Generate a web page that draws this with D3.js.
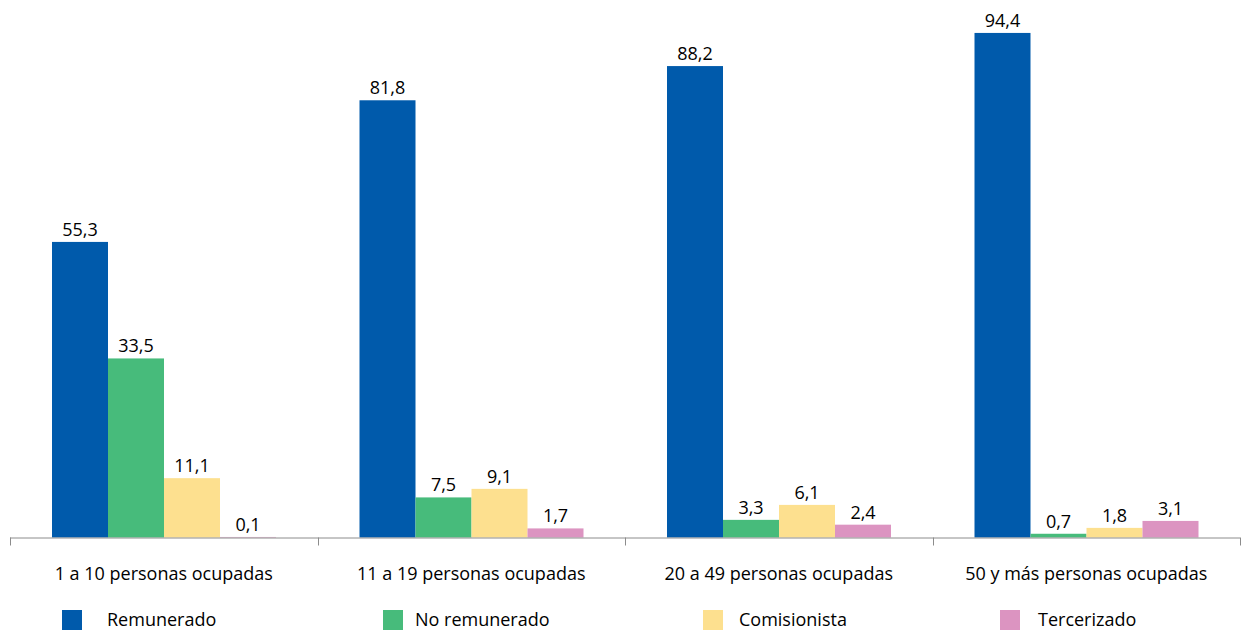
<!DOCTYPE html>
<html><head><meta charset="utf-8">
<script src="https://cdn.jsdelivr.net/npm/d3@7"></script>
<style>body{margin:0;background:#fff}svg{display:block}text{font-family:"Open Sans",sans-serif;fill:#000}</style>
</head><body>
<svg id="c" width="1244" height="630"></svg>
<script>
const categories = ["1 a 10 personas ocupadas","11 a 19 personas ocupadas","20 a 49 personas ocupadas","50 y más personas ocupadas"];
const seriesNames = ["Remunerado","No remunerado","Comisionista","Tercerizado"];
const remunerado = [55.3, 81.8, 88.2, 94.4];
const noRemunerado = [33.5, 7.5, 3.3, 0.7];
const comisionista = [11.1, 9.1, 6.1, 1.8];
const tercerizado = [0.1, 1.7, 2.4, 3.1];
const colors = ["#005aab","#47bb7b","#fde08f","#dc94c1"];
const seriesValues = [remunerado, noRemunerado, comisionista, tercerizado];
const fmt = v => v.toFixed(1).replace(".", ",");

const svg = d3.select("#c");
const x0 = d3.scaleBand().domain(categories).range([10, 1240]).padding(0);
const x1 = d3.scaleBand().domain(seriesNames).range([42, x0.bandwidth() - 41.5]).padding(0);
const y = d3.scaleLinear().domain([0, 100]).range([537.5, 3]);

const data = [];
categories.forEach((c, i) => seriesNames.forEach((s, j) => data.push({c, s, v: seriesValues[j][i], color: colors[j]})));

svg.selectAll("rect.bar").data(data).join("rect").attr("class","bar")
  .attr("x", d => x0(d.c) + x1(d.s)).attr("width", x1.bandwidth())
  .attr("y", d => y(d.v)).attr("height", d => y(0) - y(d.v)).attr("fill", d => d.color);

svg.selectAll("text.val").data(data).join("text").attr("class","val")
  .attr("x", d => x0(d.c) + x1(d.s) + x1.bandwidth()/2).attr("y", d => y(d.v) - 6)
  .attr("text-anchor","middle").attr("font-size", 18).text(d => fmt(d.v));

// axis
const ax = svg.append("g").attr("transform", `translate(0,${y(0)})`)
  .call(d3.axisBottom(x0).tickSize(0).tickFormat(""));
ax.select(".domain").attr("stroke", "#8c8c8c").attr("d", "M10,0.5H1240");
const edges = categories.map(c => x0(c)).concat([x0.range()[1]]);
svg.selectAll("line.tk").data(edges).join("line").attr("class","tk")
  .attr("x1", d => Math.round(d) + 0.5).attr("x2", d => Math.round(d) + 0.5)
  .attr("y1", y(0)).attr("y2", y(0) + 8).attr("stroke", "#8c8c8c");
svg.selectAll("text.cat").data(categories).join("text").attr("class","cat")
  .attr("x", d => x0(d) + x0.bandwidth()/2).attr("y", 580)
  .attr("text-anchor","middle").attr("font-size", 18).text(d => d);

// legend
const legX = [62, 383, 703, 1000];
const legTX = [107, 415, 739, 1038];
const lg = svg.selectAll("g.leg").data(seriesNames).join("g").attr("class","leg");
lg.append("rect").attr("x", (d,i) => legX[i]).attr("y", 610).attr("width", 20).attr("height", 20)
  .attr("fill", (d,i) => colors[i]);
lg.append("text").attr("x", (d,i) => legTX[i]).attr("y", 626).attr("font-size", 18).text(d => d);
</script>
</body></html>
